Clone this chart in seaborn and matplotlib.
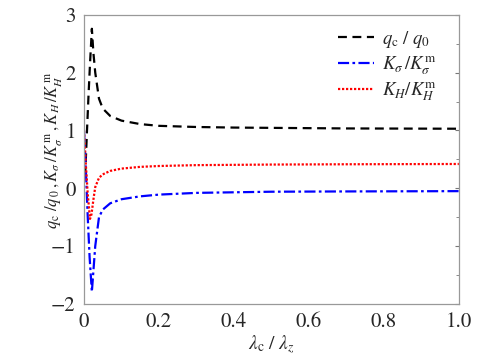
import numpy as np
import pandas as pd
import matplotlib
matplotlib.use("Agg")
import matplotlib.pyplot as plt
import seaborn as sns
from matplotlib.ticker import MultipleLocator

# curves
x_q = [0.003, 0.008, 0.012, 0.016, 0.021, 0.025, 0.03, 0.04, 0.05, 0.07, 0.1, 0.15, 0.2, 0.3, 0.4, 0.5, 0.7, 1.0]
q_ratio = [0.2, 1.0, 1.6, 2.15, 2.76, 2.35, 2.0, 1.55, 1.38, 1.25, 1.17, 1.11, 1.08, 1.06, 1.05, 1.045, 1.035, 1.03]

x_s = [0.0, 0.005, 0.01, 0.015, 0.021, 0.03, 0.04, 0.05, 0.07, 0.1, 0.15, 0.2, 0.3, 0.4, 0.5, 0.7, 1.0]
ks_ratio = [1.0, 0.3, -0.5, -1.2, -1.79, -1.0, -0.5, -0.37, -0.26, -0.19, -0.14, -0.11, -0.08, -0.07, -0.06, -0.055, -0.05]

x_h = [0.0, 0.005, 0.01, 0.016, 0.02, 0.025, 0.03, 0.04, 0.05, 0.07, 0.1, 0.15, 0.2, 0.3, 0.5, 0.7, 1.0]
kh_ratio = [1.0, 0.4, -0.1, -0.53, -0.45, -0.2, 0.02, 0.18, 0.24, 0.3, 0.34, 0.37, 0.385, 0.4, 0.41, 0.415, 0.42]

labels = [r"$q_{\mathrm{c}}\ /\ q_{0}$",
          r"$K_{\sigma}\,/K_{\sigma}^{\mathrm{m}}$",
          r"$K_{H}/K_{H}^{\mathrm{m}}$"]

sns.set_style("white")
plt.rcParams['font.family'] = ['STIXGeneral', 'DejaVu Serif']
plt.rcParams['mathtext.fontset'] = 'stix'
plt.rcParams['axes.unicode_minus'] = True

fig = plt.figure(figsize=(4.8, 3.63), dpi=100)
ax = fig.add_axes([0.175, 0.163, 0.781, 0.796])

sns.lineplot(x=x_q, y=q_ratio, ax=ax, color='black', lw=1.6, label=labels[0])
sns.lineplot(x=x_s, y=ks_ratio, ax=ax, color='blue', lw=1.6, label=labels[1])
sns.lineplot(x=x_h, y=kh_ratio, ax=ax, color='red', lw=1.6, label=labels[2])
ax.lines[0].set_dashes([4, 2.5])
ax.lines[1].set_dashes([5, 1.5, 1.2, 1.5])
ax.lines[2].set_linestyle((0, (1, 0.8)))

ax.set_xlim(0, 1.0)
ax.set_ylim(-2, 3)
ax.set_xticks([0, 0.2, 0.4, 0.6, 0.8, 1.0])
ax.set_xticklabels(['0', '0.2', '0.4', '0.6', '0.8', '1.0'])
ax.yaxis.set_minor_locator(MultipleLocator(0.5))
ax.tick_params(which='both', direction='in', right=True, top=False, labelsize=15, color='#777777', pad=6)
ax.tick_params(which='major', length=3)
ax.tick_params(which='minor', length=2)
for s in ax.spines.values():
    s.set_color('#999999')
    s.set_linewidth(0.9)

ax.set_xlabel(r"$\lambda_{\mathrm{c}}\ /\ \lambda_{z}$", fontsize=14, labelpad=1)
ax.set_ylabel(r"$q_{\mathrm{c}}\ /q_{\,0}\,,K_{\sigma}\,/K_{\sigma}^{\,\mathrm{m}}\,,K_{H}\,/K_{H}^{\,\mathrm{m}}$",
              fontsize=12)
ax.yaxis.set_label_coords(-0.052, 0.53)

leg = ax.legend(loc='upper right', frameon=False, fontsize=13.5, handlelength=1.9,
                bbox_to_anchor=(0.985, 1.01), labelspacing=0.2, handletextpad=0.4)

fig.savefig("out.png", dpi=100)
